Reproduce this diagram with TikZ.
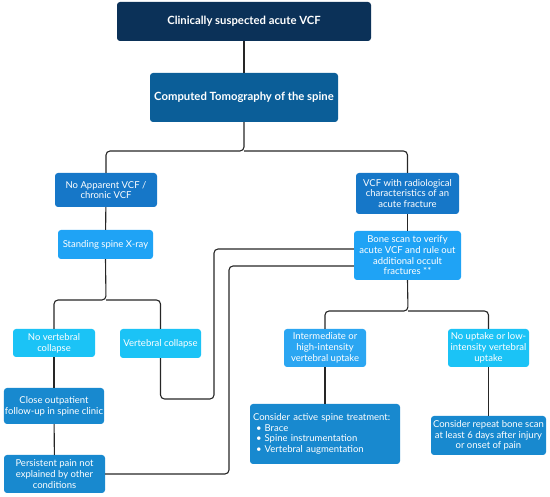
\documentclass[tikz,border=0pt]{standalone}
\usepackage{fontspec}
\setmainfont{Lato}
\usepackage{tikz}
\usetikzlibrary{positioning, calc}

\definecolor{navy}{HTML}{0B3158}
\definecolor{ctblue}{HTML}{0B5E98}
\definecolor{midblue}{HTML}{1677C8}
\definecolor{skyblue}{HTML}{1FA3F5}
\definecolor{cyanblue}{HTML}{1BC3F6}
\definecolor{uptblue}{HTML}{2BA6F2}
\definecolor{deepblue}{HTML}{1889CF}

\begin{document}
\begin{tikzpicture}[x=1pt, y=-1pt,
        box/.style={rounded corners=3pt, text=white, align=center, inner sep=1pt, font=\fontsize{9.5}{10.7}\selectfont},
        headbox/.style={box, font=\bfseries\fontsize{11.3}{13}\selectfont},
        conn/.style={draw=black!85, line width=1.1pt, rounded corners=4pt}
    ]

    \useasboundingbox (0,0) rectangle (550,497);

    \node[headbox, fill=navy, minimum width=254pt, minimum height=39pt] (suspect) at (244,21.5) {Clinically suspected acute VCF};
    \node[headbox, fill=ctblue, minimum width=188pt, minimum height=49pt] (ct) at (244,97.5) {Computed Tomography of the spine};

    \node[box, fill=midblue, minimum width=102pt, minimum height=34pt] (noacute) at (106,190) {No Apparent VCF /\\ chronic VCF};
    \node[box, fill=midblue, minimum width=103pt, minimum height=41pt] (acute) at (407.5,193.5) {VCF with radiological\\ characteristics of an\\ acute fracture};

    \node[box, fill=skyblue, minimum width=95pt, minimum height=29pt] (xray) at (105.5,244.5) {Standing spine X-ray};
    \node[box, fill=skyblue, minimum width=107pt, minimum height=49pt] (bonescan) at (407.5,255.5) {Bone scan to verify\\ acute VCF and rule out\\ additional occult\\ fractures **};

    \node[box, fill=cyanblue, minimum width=82pt, minimum height=28pt] (nocollapse) at (54,343) {No vertebral\\ collapse};
    \node[box, fill=cyanblue, minimum width=81pt, minimum height=29pt] (collapse) at (160.5,343.5) {Vertebral collapse};
    \node[box, fill=deepblue, minimum width=100pt, minimum height=36pt] (followup) at (54,406) {Close outpatient\\ follow-up in spine clinic};
    \node[box, fill=deepblue, minimum width=101pt, minimum height=38pt] (pain) at (54.5,474) {Persistent pain not\\ explained by other\\ conditions};

    \node[box, fill=uptblue, minimum width=82pt, minimum height=38pt] (uptake) at (325,348) {Intermediate or\\ high-intensity\\ vertebral uptake};
    \node[box, fill=cyanblue, minimum width=81pt, minimum height=38pt] (nouptake) at (488.5,348) {No uptake or low-\\ intensity vertebral\\ uptake};
    \node[box, fill=deepblue, align=left, minimum width=150pt, minimum height=60pt, text width=144pt] (treat) at (325,434) {Consider active spine treatment:\\
        \hspace*{3pt}\textbullet\ Brace\\
        \hspace*{3pt}\textbullet\ Spine instrumentation\\
        \hspace*{3pt}\textbullet\ Vertebral augmentation};
    \node[box, fill=deepblue, minimum width=115pt, minimum height=39pt] (repeat) at (488.5,435.5) {Consider repeat bone scan\\ at least 6 days after injury\\ or onset of pain};

    \coordinate (split1) at (244,151);
    \coordinate (split2) at (106,300);
    \coordinate (split3) at (408,311);
    \coordinate (bend1) at (214,399);
    \coordinate (bend2) at (229,266);

    \draw[conn] (suspect) -- (ct);
    \draw[conn] (ct.south) -- (split1) -| (noacute.north);
    \draw[conn] (split1) -| (acute.north);
    \draw[conn] (noacute) -- (xray);
    \draw[conn] (acute) -- (bonescan);

    \draw[conn] (xray.south) -- (split2) -| (nocollapse.north);
    \draw[conn] (split2) -| (collapse.north);
    \draw[conn] (nocollapse) -- (followup);
    \draw[conn] (followup) -- (pain);
    \draw[conn] (collapse.south) |- (bend1) |- ([yshift=6.5pt]bonescan.west);
    \draw[conn] (pain.east) -| (bend2) -- (bend2 -| bonescan.west);

    \draw[conn] (bonescan.south) -- (split3) -| (uptake.north);
    \draw[conn] (split3) -| (nouptake.north);
    \draw[conn] (uptake) -- (treat);
    \draw[conn] (nouptake) -- (repeat);

\end{tikzpicture}
\end{document}
